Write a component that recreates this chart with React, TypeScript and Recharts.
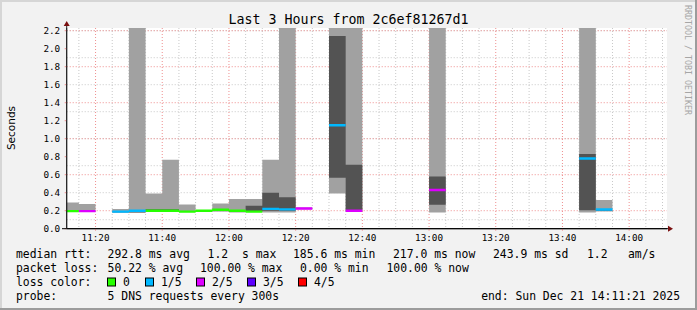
import React from "react"
import { ComposedChart, Area, Line, XAxis, YAxis, CartesianGrid } from "recharts"

// 5 minute steps, minutes after 11:00
const slotStart = [10, 15, 25, 30, 35, 40, 45, 50, 55, 60, 65, 70, 75, 80, 90, 95, 120, 165, 170]
const pingMin = [0.19, 0.19, 0.185, 0.18, 0.185, 0.185, 0.185, 0.195, 0.195, 0.18, 0.185, 0.18, 0.18, 0.215, 0.39, 0.2, 0.18, 0.18, 0.2]
const pingMax = [0.29, 0.275, 0.22, 2.6, 0.39, 0.765, 0.27, 0.205, 0.28, 0.33, 0.33, 0.765, 2.6, 0.235, 2.6, 2.6, 2.6, 2.6, 0.32]
const coreLow = [null, null, 0.18, 0.18, 0.195, 0.195, null, null, 0.195, 0.185, 0.19, 0.2, 0.2, null, 0.565, 0.2, 0.265, 0.205, 0.195]
const coreHigh = [null, null, 0.19, 0.19, 0.215, 0.215, null, null, 0.205, 0.195, 0.255, 0.4, 0.35, null, 2.14, 0.71, 0.58, 0.83, 0.205]
const medianRtt = [0.195, 0.195, 0.19, 0.2, 0.2, 0.2, 0.19, 0.2, 0.21, 0.2, 0.19, 0.22, 0.215, 0.225, 1.15, 0.2, 0.43, 0.78, 0.213]
const lossCount = [0, 2, 1, 1, 0, 0, 0, 0, 0, 0, 0, 1, 1, 2, 1, 2, 2, 1, 1]

const lossColors = ["#26ff00", "#00b8ff", "#dd00ff", "#5e00ff", "#ff0000"]
const lossLabels = ["0", "1/5", "2/5", "3/5", "4/5"]

const xTickMinutes = [20, 40, 60, 80, 100, 120, 140, 160, 180]
const xTickLabels = ["11:20", "11:40", "12:00", "12:20", "12:40", "13:00", "13:20", "13:40", "14:00"]
const yTicks = [0, 0.2, 0.4, 0.6, 0.8, 1.0, 1.2, 1.4, 1.6, 1.8, 2.0, 2.2]

const minorX = Array.from({ length: 36 }, (_, i) => 15 + i * 5)
const minorY = Array.from({ length: 22 }, (_, i) => (i + 1) * 0.1)

const rows: any[] = []
slotStart.forEach((s, i) => {
  if (i > 0 && slotStart[i - 1] + 5 < s) {
    rows.push({ t: (slotStart[i - 1] + 5 + s) / 2, light: null, core: null })
  }
  const bands = {
    light: [pingMin[i], pingMax[i]],
    core: coreLow[i] == null ? null : [coreLow[i], coreHigh[i]]
  }
  const row: any = { ...bands }
  lossColors.forEach((_, c) => {
    row["m" + c] = lossCount[i] === c ? medianRtt[i] : null
  })
  // break row so the median steps are not joined between slots
  rows.push({ t: s, ...bands }, { t: s, ...row }, { t: s + 5, ...row })
})

const mono = "'DejaVu Sans Mono', monospace"
const legendFont = { fontFamily: mono, fontSize: 11.4, fill: "#000" }

const App: React.FC = () => {
  return (
    <div style={{ position: "absolute", left: 0, top: 0, width: 697, height: 310, background: "#f2f2f2" }}>
      <ComposedChart
        width={697}
        height={310}
        data={rows}
        margin={{ top: 28, right: 30, bottom: 51.3, left: 6.7 }}
      >
        <CartesianGrid
          fill="#ffffff"
          stroke="#c8c8c8"
          strokeDasharray="1 2"
          horizontalValues={minorY}
          verticalValues={minorX}
        />
        <CartesianGrid
          stroke="#ef8f8f"
          strokeDasharray="1 2"
          horizontalValues={yTicks.slice(1)}
          verticalValues={xTickMinutes}
        />
        <XAxis
          dataKey="t"
          type="number"
          domain={[11.35, 191.35]}
          allowDataOverflow
          ticks={xTickMinutes}
          tickFormatter={(v: number) => xTickLabels[xTickMinutes.indexOf(v)]}
          height={30}
          tickSize={2}
          tickMargin={3.5}
          axisLine={{ stroke: "#000" }}
          tickLine={{ stroke: "#ef8f8f" }}
          tick={{ fontFamily: mono, fontSize: 9.3, fill: "#000" }}
        />
        <YAxis
          type="number"
          domain={[0, 2.23]}
          allowDataOverflow
          ticks={yTicks}
          tickFormatter={(v: number) => v.toFixed(1)}
          width={60}
          tickSize={2}
          tickMargin={4.5}
          axisLine={{ stroke: "#222" }}
          tickLine={{ stroke: "#ef8f8f" }}
          tick={{ fontFamily: mono, fontSize: 9.3, fill: "#000" }}
        />
        <Area
          type="linear"
          dataKey="light"
          stroke="none"
          fill="#a1a1a1"
          fillOpacity={1}
          connectNulls={false}
          isAnimationActive={false}
        />
        <Area
          type="linear"
          dataKey="core"
          stroke="none"
          fill="#535353"
          fillOpacity={1}
          connectNulls={false}
          isAnimationActive={false}
        />
        {lossColors.map((c, i) => (
          <Line
            key={c}
            type="linear"
            dataKey={"m" + i}
            stroke={c}
            strokeWidth={2.4}
            dot={false}
            connectNulls={false}
            isAnimationActive={false}
          />
        ))}
      </ComposedChart>

      <svg
        width={697}
        height={310}
        style={{ position: "absolute", left: 0, top: 0, pointerEvents: "none" }}
      >
        <line x1={0} y1={1} x2={697} y2={1} stroke="#d6d6d6" strokeWidth={2} />
        <line x1={1} y1={0} x2={1} y2={310} stroke="#d6d6d6" strokeWidth={2} />
        <line x1={696} y1={0} x2={696} y2={310} stroke="#9c9c9c" strokeWidth={2} />
        <line x1={0} y1={309} x2={697} y2={309} stroke="#9c9c9c" strokeWidth={2} />

        <text x={348.5} y={24} textAnchor="middle" fontFamily={mono} fontSize={13.3} fill="#000">
          Last 3 Hours from 2c6ef81267d1
        </text>
        <text
          transform="translate(15,128) rotate(-90)"
          textAnchor="middle"
          fontFamily="'DejaVu Sans', sans-serif"
          fontSize={10.5}
          fill="#000"
        >
          Seconds
        </text>
        <text
          transform="translate(685,5) rotate(90)"
          fontFamily={mono}
          fontSize={8.3}
          fill="#a6a6a6"
        >
          RRDTOOL / TOBI OETIKER
        </text>

        {/* axis arrows */}
        <line x1={62} y1={228.7} x2={669} y2={228.7} stroke="#000" strokeWidth={1} />
        <line x1={66.7} y1={24} x2={66.7} y2={229} stroke="#222" strokeWidth={1} />
        <polygon points="668,225.7 673,228.7 668,231.7" fill="#7a1010" />
        <polygon points="63.7,26 66.7,21 69.7,26" fill="#7a1010" />

        <text x={16} y={258} {...legendFont}>median rtt:</text>
        <text x={107.6} y={258} {...legendFont}>292.8 ms avg</text>
        <text x={207.6} y={258} {...legendFont}>1.2</text>
        <text x={242} y={258} {...legendFont}>s max</text>
        <text x={293} y={258} {...legendFont}>185.6 ms min</text>
        <text x={393} y={258} {...legendFont}>217.0 ms now</text>
        <text x={493} y={258} {...legendFont}>243.9 ms sd</text>
        <text x={587} y={258} {...legendFont}>1.2</text>
        <text x={628} y={258} {...legendFont}>am/s</text>

        <text x={16} y={272} {...legendFont}>packet loss:</text>
        <text x={107.6} y={272} {...legendFont}>50.22 % avg</text>
        <text x={200} y={272} {...legendFont}>100.00 % max</text>
        <text x={300} y={272} {...legendFont}>0.00 % min</text>
        <text x={386.5} y={272} {...legendFont}>100.00 % now</text>

        <text x={16} y={286} {...legendFont}>loss color:</text>
        {lossColors.map((c, i) => {
          const bx = [107.5, 145.5, 196.5, 247.5, 298.5][i]
          return (
            <g key={c}>
              <rect x={bx} y={278} width={8} height={8} fill={c} stroke="#000" strokeWidth={1} />
              <text x={bx + 15.5} y={286} {...legendFont}>{lossLabels[i]}</text>
            </g>
          )
        })}

        <text x={16} y={300} {...legendFont}>probe:</text>
        <text x={107.6} y={300} {...legendFont}>5 DNS requests every 300s</text>
        <text x={680} y={300} textAnchor="end" {...legendFont}>end: Sun Dec 21 14:11:21 2025</text>
      </svg>
    </div>
  )
}

export default App
